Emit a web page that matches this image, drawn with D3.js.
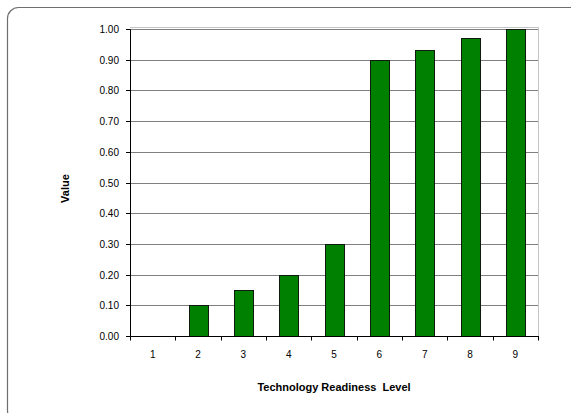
<!DOCTYPE html>
<html>
<head>
<meta charset="utf-8">
<script src="https://cdn.jsdelivr.net/npm/d3@7/dist/d3.min.js"></script>
<style>
  html, body { margin: 0; padding: 0; background: #fff; }
  svg { display: block; }
  text { font-family: "Liberation Sans", Arial, sans-serif; fill: #000; }
</style>
</head>
<body>
<svg id="chart" width="571" height="413"></svg>
<script>
// Technology readiness levels and their values
const levels = ["1", "2", "3", "4", "5", "6", "7", "8", "9"];
const values = [0, 0.10, 0.15, 0.20, 0.30, 0.90, 0.93, 0.97, 1.00];
const yTicks = [0, 0.1, 0.2, 0.3, 0.4, 0.5, 0.6, 0.7, 0.8, 0.9, 1.0];

const svg = d3.select("#chart");
const plot = { left: 130, right: 538, top: 29, bottom: 336 };

// Outer rounded frame
svg.append("rect")
  .attr("x", 7.5).attr("y", 7.5)
  .attr("width", 580).attr("height", 414)
  .attr("rx", 11).attr("ry", 11)
  .attr("fill", "#fff")
  .attr("stroke", "#6e6e6e")
  .attr("stroke-width", 1.2);

const x = d3.scaleBand()
  .domain(levels)
  .range([plot.left, plot.right])
  .paddingInner(0.59)
  .paddingOuter(0.295);

const y = d3.scaleLinear()
  .domain([0, 1])
  .rangeRound([plot.bottom, plot.top]);

// Plot area border (light grey on top and right)
svg.append("path")
  .attr("d", `M${plot.left},${plot.top - 1.5}H${plot.right + 0.5}V${plot.bottom}`)
  .attr("fill", "none")
  .attr("stroke", "#c4c4c4")
  .attr("stroke-width", 1);

// Horizontal gridlines
svg.append("g")
  .selectAll("line")
  .data(yTicks.filter(d => d > 0))
  .join("line")
  .attr("x1", plot.left)
  .attr("x2", plot.right)
  .attr("y1", d => y(d) + 0.5)
  .attr("y2", d => y(d) + 0.5)
  .attr("stroke", "#7f7f7f")
  .attr("stroke-width", 1);

// Bars
svg.append("g")
  .selectAll("rect")
  .data(levels.map((l, i) => ({ level: l, value: values[i] })).filter(d => d.value > 0))
  .join("rect")
  .attr("x", d => Math.round(x(d.level)) + 0.5)
  .attr("y", d => y(d.value) + 0.5)
  .attr("width", Math.round(x.bandwidth()))
  .attr("height", d => y(0) - y(d.value))
  .attr("fill", "#008000")
  .attr("stroke", "#0d1a0d")
  .attr("stroke-width", 1);

// Y axis
const yAxis = svg.append("g")
  .attr("transform", `translate(${plot.left},0)`)
  .call(d3.axisLeft(y).tickValues(yTicks).tickFormat(d3.format(".2f")).tickSize(4).tickPadding(7));
yAxis.selectAll("text").style("font-size", "10px").attr("fill", "#000");
yAxis.selectAll("line").attr("stroke", "#000");
yAxis.select(".domain").attr("stroke", "#000");

// X axis: labels at band centres, tick marks at band boundaries
const xAxis = svg.append("g")
  .attr("transform", `translate(0,${plot.bottom})`)
  .call(d3.axisBottom(x).tickSize(0).tickPadding(15));
xAxis.selectAll("text").style("font-size", "10px").attr("fill", "#000");
xAxis.select(".domain").attr("stroke", "#000").attr("d", `M${plot.left},0.5H${plot.right + 0.5}`);

const bounds = d3.range(levels.length + 1).map(i => plot.left + i * x.step());
xAxis.selectAll(".bound")
  .data(bounds)
  .join("line")
  .attr("class", "bound")
  .attr("x1", d => Math.round(d) + 0.5)
  .attr("x2", d => Math.round(d) + 0.5)
  .attr("y1", 0)
  .attr("y2", 4.5)
  .attr("stroke", "#000");

// Axis titles
svg.append("text")
  .attr("x", (plot.left + plot.right) / 2)
  .attr("y", 391)
  .attr("text-anchor", "middle")
  .style("font-size", "11px")
  .style("font-weight", "bold")
  .style("white-space", "pre")
  .text("Technology Readiness  Level");

svg.append("text")
  .attr("transform", "translate(69,188.5) rotate(-90)")
  .attr("text-anchor", "middle")
  .style("font-size", "11px")
  .style("font-weight", "bold")
  .text("Value");
</script>
</body>
</html>
